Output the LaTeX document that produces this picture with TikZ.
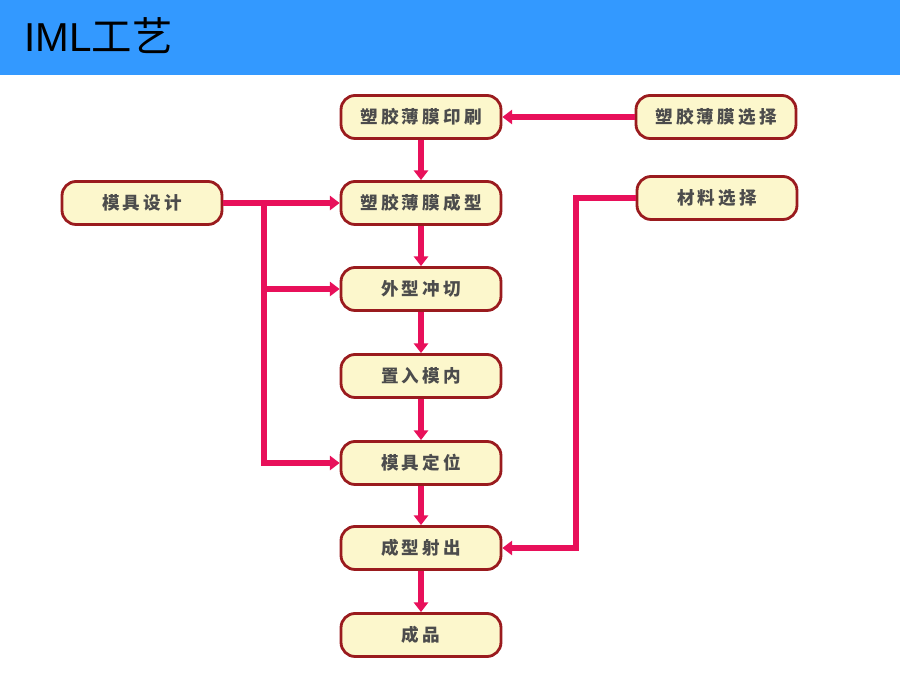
\documentclass[tikz,border=0pt]{standalone}
\usepackage{fontspec}
\setmainfont{Liberation Sans}
\newfontfamily\cjk[LetterSpace=18]{Noto Sans CJK SC}
\newfontfamily\cjktitle{Noto Sans CJK SC}
\usetikzlibrary{arrows.meta}
\definecolor{barblue}{HTML}{3399FF}
\definecolor{linkpink}{HTML}{E8105A}
\definecolor{boxred}{HTML}{9A1B1E}
\definecolor{boxfill}{HTML}{FCF7CC}
\newcommand{\stepcol}{421}

\begin{document}
\begin{tikzpicture}[x=0.02cm,y=-0.02cm,
  procbox/.style={draw=boxred,line width=1.6pt,fill=boxfill,rounded corners=8pt,
    minimum width=3.2cm,minimum height=0.86cm,inner sep=0pt,
    font=\cjk\bfseries\fontsize{10}{10}\selectfont,text=black!70},
  link/.style={draw=linkpink,line width=3.8pt,-{Triangle[width=8pt,length=5.5pt]}}]

 \useasboundingbox (0,0) rectangle (900,675);
 \fill[barblue] (0,0) rectangle (900,75);
 \node[anchor=base west,inner sep=0pt,font=\fontsize{23}{23}\selectfont] (title) at (24,52)
   {IML{\cjktitle 工艺}};

 \node[procbox] (print) at (\stepcol,117) {塑胶薄膜印刷};
 \node[procbox] (filmsel) at (716,117) {塑胶薄膜选择};
 \node[procbox] (mold) at (142,203) {模具设计};
 \node[procbox] (form) at (\stepcol,203) {塑胶薄膜成型};
 \node[procbox] (matsel) at (717,198) {材料选择};
 \node[procbox] (cut) at (\stepcol,289) {外型冲切};
 \node[procbox] (insert) at (\stepcol,376) {置入模内};
 \node[procbox] (locate) at (\stepcol,463) {模具定位};
 \node[procbox] (inject) at (\stepcol,548) {成型射出};
 \node[procbox] (product) at (\stepcol,635) {成品};

 \coordinate (fork) at (264,203);
 \coordinate (bend) at (576,198);

 \draw[link] (filmsel.west) -- (print.east);
 \foreach \a/\b in {print/form,form/cut,cut/insert,insert/locate,locate/inject,inject/product}
   \draw[link] (\a.south) -- (\b.north);

 \draw[link] (mold.east) -- (form.west);
 \draw[link] (fork) |- (cut.west);
 \draw[link] (fork) |- (locate.west);
 \draw[link] (matsel.west) -- (bend) |- (inject.east);

\end{tikzpicture}
\end{document}
